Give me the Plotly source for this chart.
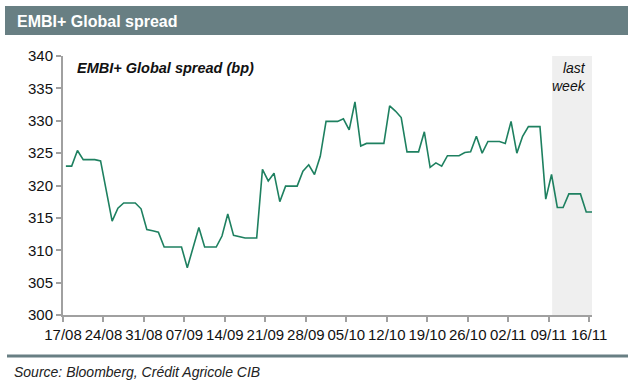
import plotly.graph_objects as go
import pandas as pd

# ---- data (EMBI+ Global spread, bp), daily from 17/08/2009 ----
start_date = "2009-08-17"
spread = [
    323.0, 323.0, 325.4, 324.0, 324.0, 324.0, 323.8, 319.0, 314.5, 316.5,
    317.3, 317.3, 317.3, 316.4, 313.2, 313.0, 312.8, 310.5, 310.5, 310.5,
    310.5, 307.3, 310.4, 313.5, 310.5, 310.5, 310.5, 312.2, 315.6, 312.3,
    312.1, 311.9, 311.9, 311.9, 322.5, 320.7, 321.9, 317.5, 319.9, 319.9,
    319.9, 322.2, 323.2, 321.7, 324.5, 329.9, 329.9, 329.9, 330.3, 328.6,
    332.9, 326.1, 326.5, 326.5, 326.5, 326.5, 332.3, 331.5, 330.5, 325.2,
    325.2, 325.2, 328.3, 322.8, 323.5, 323.0, 324.6, 324.6, 324.6, 325.1,
    325.2, 327.6, 325.0, 326.8, 326.8, 326.8, 326.5, 329.9, 325.0, 327.6,
    329.1, 329.1, 329.1, 317.9, 321.7, 316.6, 316.6, 318.7, 318.7, 318.7,
    315.9, 315.9,
]
tick_labels = ["17/08", "24/08", "31/08", "07/09", "14/09", "21/09", "28/09",
               "05/10", "12/10", "19/10", "26/10", "02/11", "09/11", "16/11"]
last_week_start = "2009-11-09 14:30"
axis_end = "2009-11-16 12:00"

dates = pd.date_range(start_date + " 12:00", periods=len(spread), freq="D")
tick_vals = [pd.Timestamp(f"2009-{t[3:5]}-{t[0:2]}") for t in tick_labels]

FONT = "Arial, Liberation Sans, sans-serif"
HEAD = "#687f83"
AXC = "#a0a0a0"

fig = go.Figure()
fig.add_trace(go.Scatter(
    x=dates, y=spread, mode="lines",
    line=dict(color="#1e8060", width=1.6),
    hoverinfo="skip", showlegend=False,
))

# shaded "last week" region
fig.add_shape(type="rect", xref="x", yref="paper",
              x0=last_week_start, x1=axis_end, y0=0, y1=1,
              fillcolor="#efefef", line=dict(width=0), layer="below")

# header bar
fig.add_shape(type="rect", xref="paper", yref="paper",
              x0=-58 / 529, x1=565 / 529, y0=(315 - 35) / 259, y1=(315 - 6) / 259,
              fillcolor=HEAD, line=dict(width=0), layer="below")
# bottom separator line
fig.add_shape(type="line", xref="paper", yref="paper",
              x0=-56 / 529, x1=565 / 529, y0=(315 - 356) / 259, y1=(315 - 356) / 259,
              line=dict(color=HEAD, width=3))

fig.add_annotation(xref="paper", yref="paper", x=-48 / 529, y=(315 - 21) / 259,
                   text="<b>EMBI+ Global spread</b>", showarrow=False,
                   xanchor="left", yanchor="middle",
                   font=dict(family=FONT, size=16, color="white"))
fig.add_annotation(xref="paper", yref="paper", x=12 / 529, y=(315 - 68) / 259,
                   text="<b><i>EMBI+ Global spread (bp)</i></b>", showarrow=False,
                   xanchor="left", yanchor="middle",
                   font=dict(family=FONT, size=14.5, color="#111111"))
fig.add_annotation(xref="paper", yref="paper", x=(588 - 63) / 529, y=(315 - 77) / 259,
                   text="<i>last<br>week</i>", showarrow=False,
                   xanchor="right", yanchor="middle", align="right",
                   font=dict(family=FONT, size=14, color="#111111"))
fig.add_annotation(xref="paper", yref="paper", x=-51 / 529, y=(315 - 372) / 259,
                   text="<i>Source: Bloomberg, Crédit Agricole CIB</i>", showarrow=False,
                   xanchor="left", yanchor="middle",
                   font=dict(family=FONT, size=14, color="#222222"))

fig.update_layout(
    width=632, height=388,
    margin=dict(l=63, r=40, t=56, b=73),
    paper_bgcolor="white", plot_bgcolor="white",
    font=dict(family=FONT, size=15, color="#111111"),
    xaxis=dict(
        type="date", range=[start_date, axis_end],
        tickvals=tick_vals, ticktext=tick_labels,
        showgrid=False, zeroline=False,
        showline=True, linecolor=AXC, linewidth=2,
        ticks="outside", ticklen=5, tickwidth=2, tickcolor=AXC,
        tickfont=dict(size=15),
    ),
    yaxis=dict(
        range=[300, 340], dtick=5, tick0=300,
        showgrid=False, zeroline=False,
        showline=True, linecolor=AXC, linewidth=2,
        ticks="outside", ticklen=5, tickwidth=2, tickcolor=AXC,
        tickfont=dict(size=15),
    ),
)

fig.write_html("out.html", config={"displayModeBar": False},
               post_script="document.body.style.margin='0px';document.body.style.overflow='hidden';")
